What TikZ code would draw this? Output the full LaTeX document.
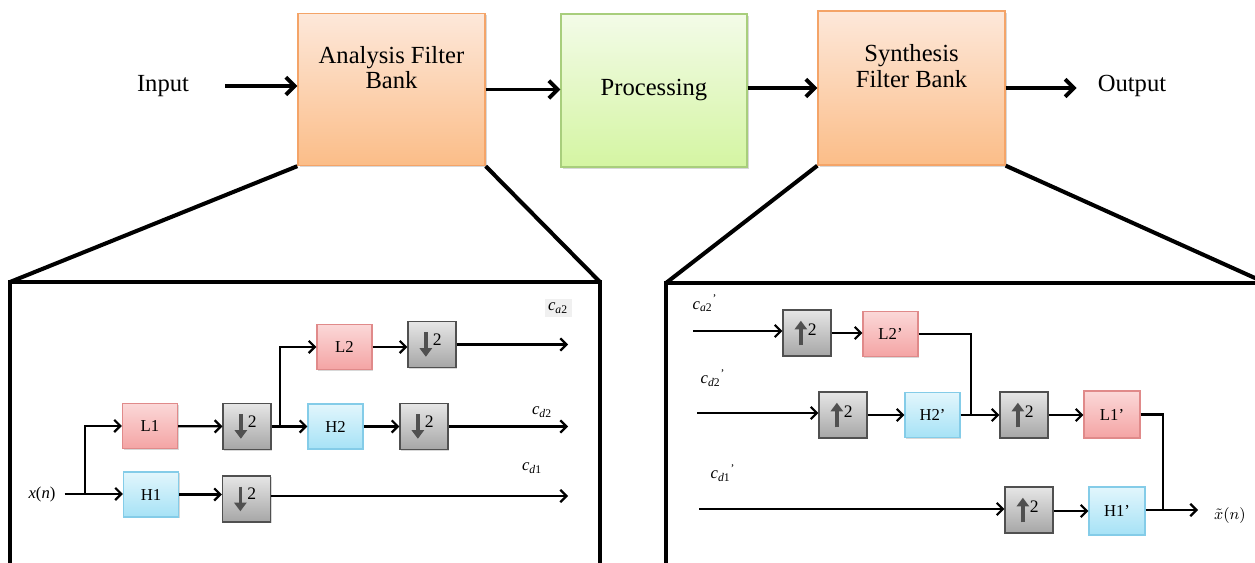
\documentclass[tikz,border=0pt]{standalone}
\usepackage{fontspec}
\setmainfont{Liberation Serif}
\usetikzlibrary{arrows.meta,shadows}
\definecolor{orT}{HTML}{FDE8DA}
\definecolor{orD}{HTML}{FBBD88}
\definecolor{orB}{HTML}{F4A468}
\definecolor{grT}{HTML}{F3FBE8}
\definecolor{grD}{HTML}{D4F5A2}
\definecolor{grB}{HTML}{A8CE7C}
\definecolor{pkT}{HTML}{FBD8D8}
\definecolor{pkD}{HTML}{F4A4A4}
\definecolor{pkB}{HTML}{E08A8A}
\definecolor{blT}{HTML}{E2F6FC}
\definecolor{blD}{HTML}{A6E2F6}
\definecolor{blB}{HTML}{84CCE8}
\definecolor{gyT}{HTML}{E6E6E6}
\definecolor{gyD}{HTML}{A6A6A6}
\definecolor{gyB}{HTML}{505050}
\begin{document}
\begin{tikzpicture}[x=0.02cm,y=-0.02cm,
  bigbox/.style={draw, line width=0.8pt, minimum width=3.74cm, minimum height=3.04cm,
    align=center, font=\fontsize{14}{14.5}\selectfont,
    drop shadow={shadow xshift=1pt, shadow yshift=-1pt, opacity=0.3}},
  box/.style={draw, line width=0.6pt, inner sep=1pt, font=\fontsize{9.5}{11}\selectfont,
    drop shadow={shadow xshift=0.8pt, shadow yshift=-0.8pt, opacity=0.3}},
  lbox/.style={box, draw=pkB, top color=pkT, bottom color=pkD, minimum width=1.1cm, minimum height=0.9cm},
  hbox/.style={box, draw=blB, top color=blT, bottom color=blD, minimum width=1.1cm, minimum height=0.9cm},
  gbox/.style={box, draw=gyB, top color=gyT, bottom color=gyD, minimum width=0.96cm, minimum height=0.92cm},
  downbox/.style={gbox, path picture={
    \draw[line width=2pt, -{Triangle[length=5pt,width=7pt]}]
      ([xshift=-3.5pt,yshift=7pt]path picture bounding box.center) --
      ([xshift=-3.5pt,yshift=-7pt]path picture bounding box.center);
    \node[font=\fontsize{10}{10}\selectfont, inner sep=0] at ([xshift=3pt,yshift=3pt]path picture bounding box.center) {2};}},
  upbox/.style={gbox, path picture={
    \draw[line width=2pt, -{Triangle[length=5pt,width=7pt]}]
      ([xshift=-3.5pt,yshift=-7pt]path picture bounding box.center) --
      ([xshift=-3.5pt,yshift=7pt]path picture bounding box.center);
    \node[font=\fontsize{10}{10}\selectfont, inner sep=0] at ([xshift=3pt,yshift=2pt]path picture bounding box.center) {2};}},
  arr/.style={line width=1.3pt, -{Straight Barb[length=3.5pt,width=7pt]}},
  bigarr/.style={line width=2.2pt, -{Straight Barb[length=5pt,width=10pt]}},
  ln/.style={line width=1.3pt},
  pan/.style={line width=2.3pt},
  lab/.style={font=\fontsize{9.5}{11}\selectfont, inner sep=1pt},
  toptxt/.style={font=\fontsize{14}{14.5}\selectfont}]
\clip (0,0) rectangle (1255,563);
\fill[white] (0,0) rectangle (1255,563);

% ---------- top row ----------
\node[toptxt] (inp) at (163,86) {Input};
\node[bigbox, draw=orB, top color=orT, bottom color=orD,
  label={[anchor=north, yshift=-0.66cm, align=center, inner sep=0, font=\fontsize{14}{14.5}\selectfont]north:Analysis Filter\\Bank}]
  (ana) at (391.5,89.5) {};
\node[bigbox, draw=grB, top color=grT, bottom color=grD, minimum width=3.72cm, minimum height=3.06cm]
  (proc) at (654,90.5) {Processing};
\node[bigbox, draw=orB, top color=orT, bottom color=orD, minimum height=3.08cm,
  label={[anchor=north, yshift=-0.68cm, align=center, inner sep=0, font=\fontsize{14}{14.5}\selectfont]north:Synthesis\\Filter Bank}]
  (syn) at (911.5,88) {};
\node[toptxt] (out) at (1132,86) {Output};

\draw[bigarr] ([xshift=0.6cm]inp.east) -- (inp.east -| ana.west);
\draw[bigarr] (ana.east) -- (ana.east -| proc.west);
\draw[bigarr] (syn.west -| proc.east) -- (syn.west);
\draw[bigarr] (syn.east) -- ([xshift=-0.3cm]out.west |- syn.east);

% ---------- panels ----------
\coordinate (lptl) at (10,282);
\coordinate (lptr) at (600,282);
\coordinate (rptl) at (666,283);
\coordinate (rptr) at (1266,283);
\draw[pan] (ana.south west) -- (lptl);
\draw[pan] (ana.south east) -- (lptr);
\draw[pan] (10,600) -- (lptl) -- (lptr) -- (600,600);
\draw[pan] (syn.south west) -- (rptl);
\draw[pan] (syn.south east) -- (rptr);
\draw[pan] (666,600) -- (rptl) -- (rptr);

% ---------- analysis panel ----------
\node[lab] (xn) at (42,494) {\textit{x}(\textit{n})};
\node[lbox] (l1) at (150,426) {L1};
\node[hbox] (h1) at (151,494.5) {H1};
\node[downbox] (d1) at (247,426.5) {};
\node[downbox] (d1b) at (246.5,499) {};
\node[lbox] (l2) at (344.5,347) {L2};
\node[downbox] (d2) at (432,344.5) {};
\node[hbox] (h2) at (335.5,426.5) {H2};
\node[downbox] (d3) at (424,426.5) {};
\coordinate (s1) at (85,494.5);
\coordinate (s2) at (280,426.5);
\coordinate (oa2) at (568,344.5);
\coordinate (od2) at (568,426.5);
\coordinate (od1) at (568,496);
\node[lab, fill=gray!12, inner sep=2pt] (ca2) at (558,308) {\textit{c}\textsubscript{\textit{a}2}};
\node[lab] (cd2) at (542,412) {\textit{c}\textsubscript{\textit{d}2}};
\node[lab] (cd1) at (532,468) {\textit{c}\textsubscript{\textit{d}1}};

\draw[arr] ([xshift=4pt]xn.east) -- (h1.west |- xn.east);
\draw[arr] (s1) |- (l1.west);
\draw[arr] (l1) -- (d1);
\draw[arr] (h1.east) -- (h1.east -| d1b.west);
\draw[arr] (d1.east) -- (h2.west);
\draw[arr] (s2) |- (l2.west);
\draw[arr] (l2) -- (l2.east -| d2.west);
\draw[arr] (d2.east) -- (oa2);
\draw[arr] (h2) -- (d3);
\draw[arr] (d3.east) -- (od2);
\draw[arr] (d1b.east |- od1) -- (od1);

% ---------- synthesis panel ----------
\node[lab] (ca2p) at (705,303) {\textit{c}\textsubscript{\textit{a}2}\textsuperscript{’}};
\node[lab] (cd2p) at (713,378) {\textit{c}\textsubscript{\textit{d}2}\textsuperscript{’}};
\node[lab] (cd1p) at (723,473) {\textit{c}\textsubscript{\textit{d}1}\textsuperscript{’}};
\node[upbox] (u1) at (807,333) {};
\node[lbox] (l2p) at (890.5,334) {L2’};
\node[upbox] (u2) at (843,415) {};
\node[hbox] (h2p) at (932.5,415) {H2’};
\node[upbox] (u4) at (1024,415) {};
\node[lbox, minimum width=1.12cm, minimum height=0.94cm] (l1p) at (1112,414.5) {L1’};
\node[upbox] (u5) at (1029,510) {};
\node[hbox, minimum width=1.12cm, minimum height=0.96cm] (h1p) at (1117,511) {H1’};
\node[lab, anchor=west] (xt) at (1212,516) {$\tilde{x}(n)$};
\coordinate (in0) at (693,331);
\coordinate (in1) at (697,413);
\coordinate (in2) at (699,509);
\coordinate (j1) at (971,415);
\coordinate (j2) at (1163,510);
\coordinate (xo) at (1198,510);

\draw[arr] (in0) -- (in0 -| u1.west);
\draw[arr] (u1) -- (u1.east -| l2p.west);
\draw[ln] (l2p.east) -| (j1);
\draw[arr] (in1) -- (in1 -| u2.west);
\draw[arr] (u2) -- (h2p);
\draw[arr] (h2p) -- (u4);
\draw[arr] (u4) -- (u4.east -| l1p.west);
\draw[ln] (l1p.east) -| (j2);
\draw[arr] (in2) -- (in2 -| u5.west);
\draw[arr] (u5.east |- h1p.west) -- (h1p.west);
\draw[arr] (h1p.east |- xo) -- (xo);
\end{tikzpicture}
\end{document}
